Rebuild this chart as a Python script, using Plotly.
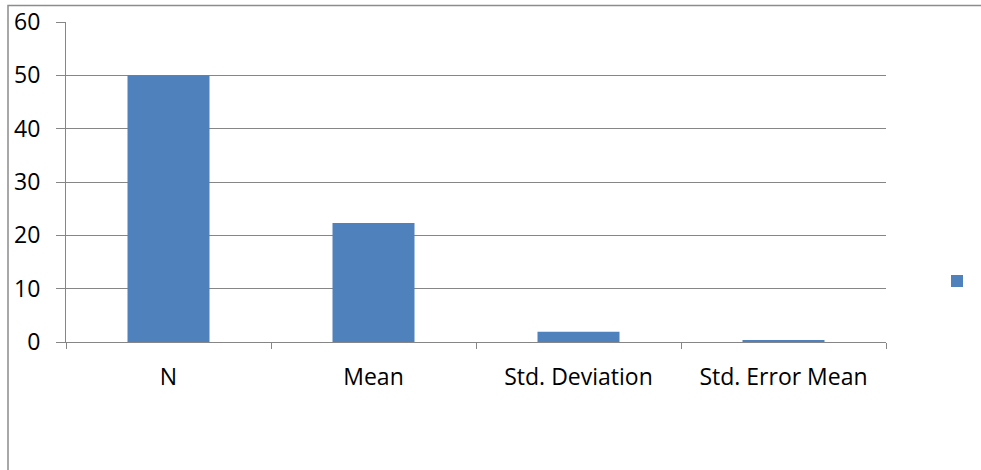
import plotly.graph_objects as go

# Summary statistics shown as bars
categories = ["N", "Mean", "Std. Deviation", "Std. Error Mean"]
values = [50, 22.3, 1.9, 0.27]
y_ticks = [0, 10, 20, 30, 40, 50, 60]

W, H = 981, 470
L, R, T, B = 66, 95, 22, 128
plot_w = W - L - R
plot_h = H - T - B

fig = go.Figure()
fig.add_trace(go.Bar(
    x=categories,
    y=values,
    name=" ",
    marker=dict(color="#4F81BD", line=dict(width=0)),
    width=0.4,
    showlegend=True,
))

font = dict(family="'Open Sans', Lato, sans-serif", size=23, color="#000000")

fig.update_layout(
    width=W,
    height=H,
    margin=dict(l=L, r=R, t=T, b=B, pad=0, autoexpand=False),
    paper_bgcolor="white",
    plot_bgcolor="white",
    font=font,
    showlegend=True,
    legend=dict(
        x=(937 - L) / plot_w, y=(342 - 281) / plot_h,
        xanchor="left", yanchor="middle",
        bgcolor="rgba(0,0,0,0)", borderwidth=0,
        itemwidth=30, font=dict(size=1),
    ),
    xaxis=dict(
        type="category",
        showgrid=False,
        showline=True, linecolor="#868686", linewidth=1,
        ticks="outside", ticklen=6, tickcolor="#868686",
        tickson="boundaries",
        tickfont=font,
        ticklabelstandoff=14,
        range=[-0.5, 3.5],
    ),
    yaxis=dict(
        range=[0, 60],
        tickvals=y_ticks,
        showgrid=True, gridcolor="#868686", gridwidth=1,
        showline=True, linecolor="#868686", linewidth=1,
        ticks="outside", ticklen=9, tickcolor="#868686",
        tickfont=font,
        ticklabelstandoff=11,
        zeroline=False,
    ),
    shapes=[
        dict(
            type="rect", xref="paper", yref="paper",
            x0=(8 - L) / plot_w, x1=(1000 - L) / plot_w,
            y0=(342 - 490) / plot_h, y1=(342 - 5.5) / plot_h,
            line=dict(color="#8C8C8C", width=1.5),
            fillcolor="rgba(0,0,0,0)", layer="below",
        )
    ],
)

fig.write_html("out.html")
